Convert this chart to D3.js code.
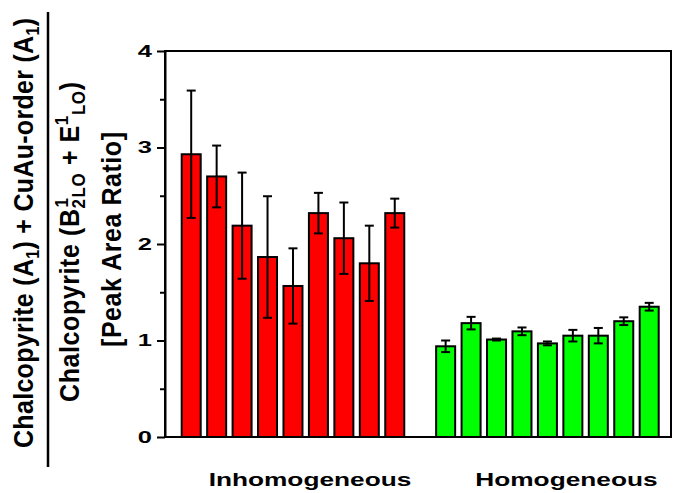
<!DOCTYPE html>
<html>
<head>
<meta charset="utf-8">
<script src="https://cdn.jsdelivr.net/npm/d3@7"></script>
<style>
  body { margin: 0; background: #fff; }
  svg { display: block; font-family: "Liberation Sans", Arial, sans-serif; font-weight: bold; }
</style>
</head>
<body>
<script>
// data
const inhomValues = [2.93, 2.70, 2.19, 1.865, 1.565, 2.32, 2.06, 1.80, 2.32];
const inhomErrors = [0.66, 0.32, 0.55, 0.63, 0.39, 0.21, 0.37, 0.39, 0.15];
const homValues = [0.94, 1.18, 1.01, 1.095, 0.97, 1.05, 1.05, 1.20, 1.35];
const homErrors = [0.06, 0.065, 0.01, 0.04, 0.02, 0.06, 0.08, 0.04, 0.04];
const groupNames = ["Inhomogeneous", "Homogeneous"];
const yTicks = [0, 1, 2, 3, 4];
const yMinorTicks = [0.5, 1.5, 2.5, 3.5];

const w = 673, h = 493;
const plotLeft = 165, plotRight = 671, plotTop = 51, plotBottom = 437;
const sx = 1.5; // the figure is stretched sideways

const bars = [];
inhomValues.forEach((v, i) => bars.push({ id: "i" + i, v: v, e: inhomErrors[i], color: "#ff0000" }));
homValues.forEach((v, i) => bars.push({ id: "h" + i, v: v, e: homErrors[i], color: "#00ff00" }));
const slots = bars.slice(0, 9).map(d => d.id).concat(["gap"], bars.slice(9).map(d => d.id));

const xScale = d3.scalePoint().domain(slots).range([191.2, 649.2]);
const yScale = d3.scaleLinear().domain([0, 4]).range([plotBottom, plotTop]);
const barW = 19;

const svg = d3.select("body").append("svg")
  .attr("width", w)
  .attr("height", h);

// bars
svg.selectAll("rect.bar")
  .data(bars)
  .enter()
  .append("rect")
  .attr("class", "bar")
  .attr("x", d => xScale(d.id) - barW / 2)
  .attr("y", d => yScale(d.v))
  .attr("width", barW)
  .attr("height", d => yScale(0) - yScale(d.v))
  .attr("fill", d => d.color)
  .attr("stroke", "#000")
  .attr("stroke-width", 2);

// error bars
const err = svg.selectAll("g.err")
  .data(bars)
  .enter()
  .append("g")
  .attr("class", "err")
  .attr("stroke", "#000")
  .attr("stroke-width", 2);
err.append("line")
  .attr("x1", d => xScale(d.id)).attr("x2", d => xScale(d.id))
  .attr("y1", d => yScale(d.v + d.e)).attr("y2", d => yScale(d.v - d.e));
err.append("line")
  .attr("x1", d => xScale(d.id) - 4.5).attr("x2", d => xScale(d.id) + 4.5)
  .attr("y1", d => yScale(d.v + d.e)).attr("y2", d => yScale(d.v + d.e));
err.append("line")
  .attr("x1", d => xScale(d.id) - 4.5).attr("x2", d => xScale(d.id) + 4.5)
  .attr("y1", d => yScale(d.v - d.e)).attr("y2", d => yScale(d.v - d.e));

// frame
svg.append("rect")
  .attr("x", plotLeft).attr("y", plotTop)
  .attr("width", plotRight - plotLeft).attr("height", plotBottom - plotTop)
  .attr("fill", "none")
  .attr("stroke", "#000")
  .attr("stroke-width", 2);

// y axis
const yAxis = d3.axisLeft(yScale).tickValues(yTicks).tickSize(8).tickSizeOuter(0).tickFormat(d3.format("d"));
const gy = svg.append("g")
  .attr("transform", "translate(" + plotLeft + ",0)")
  .call(yAxis);
gy.select(".domain").attr("stroke-width", 2);
gy.selectAll(".tick line").attr("stroke-width", 2);
gy.selectAll(".tick text")
  .attr("x", 0)
  .attr("transform", "translate(-13,0) scale(" + sx + ",1)")
  .attr("font-size", 17)
  .attr("font-family", "Liberation Sans, Arial, sans-serif")
  .attr("font-weight", "bold")
  .attr("fill", "#000");

const yMinor = d3.axisLeft(yScale).tickValues(yMinorTicks).tickSize(5).tickSizeOuter(0).tickFormat("");
const gm = svg.append("g")
  .attr("transform", "translate(" + plotLeft + ",0)")
  .call(yMinor);
gm.select(".domain").remove();
gm.selectAll(".tick line").attr("stroke-width", 2);

// group labels
const groupX = [
  (xScale(slots[0]) + xScale(slots[8])) / 2 + 17,
  (xScale(slots[10]) + xScale(slots[18])) / 2 + 19
];
svg.selectAll("text.group")
  .data(groupNames)
  .enter()
  .append("text")
  .attr("class", "group")
  .attr("transform", (d, i) => "translate(" + groupX[i] + ",486) scale(" + sx + ",1)")
  .attr("text-anchor", "middle")
  .attr("font-size", 17.5)
  .text(d => d);

// y title, three rotated lines
const title = svg.append("g").attr("font-size", 25);
const rot = (x, y) => "translate(" + x + "," + y + ") scale(1.12,1) rotate(-90)";

const t1 = title.append("text")
  .attr("transform", rot(33, 233))
  .attr("text-anchor", "middle")
  .attr("textLength", 430)
  .attr("lengthAdjust", "spacing");
t1.append("tspan").text("Chalcopyrite (A");
t1.append("tspan").attr("font-size", 16).attr("dy", 5).text("1");
t1.append("tspan").attr("dy", -5).text(") + CuAu-order (A");
t1.append("tspan").attr("font-size", 16).attr("dy", 5).text("1");
t1.append("tspan").attr("dy", -5).text(")");

svg.append("line")
  .attr("x1", 48).attr("x2", 48)
  .attr("y1", 12).attr("y2", 467)
  .attr("stroke", "#000")
  .attr("stroke-width", 2.5);

const t2 = title.append("text")
  .attr("transform", rot(79, 242))
  .attr("text-anchor", "middle")
  .attr("textLength", 320)
  .attr("lengthAdjust", "spacing");
t2.append("tspan").text("Chalcopyrite (B");
t2.append("tspan").attr("font-size", 17).attr("dy", 5).text("2");
t2.append("tspan").attr("font-size", 17).attr("dx", -9).attr("dy", -15).text("1");
t2.append("tspan").attr("font-size", 17).attr("dy", 15).text("LO");
t2.append("tspan").attr("dy", -5).text(" + E");
t2.append("tspan").attr("font-size", 17).attr("dy", -10).text("1");
t2.append("tspan").attr("font-size", 17).attr("dy", 15).text("LO");
t2.append("tspan").attr("dy", -5).text(")");

title.append("text")
  .attr("transform", rot(121, 239.5))
  .attr("text-anchor", "middle")
  .attr("textLength", 215)
  .attr("lengthAdjust", "spacing")
  .text("[Peak Area Ratio]");
</script>
</body>
</html>
